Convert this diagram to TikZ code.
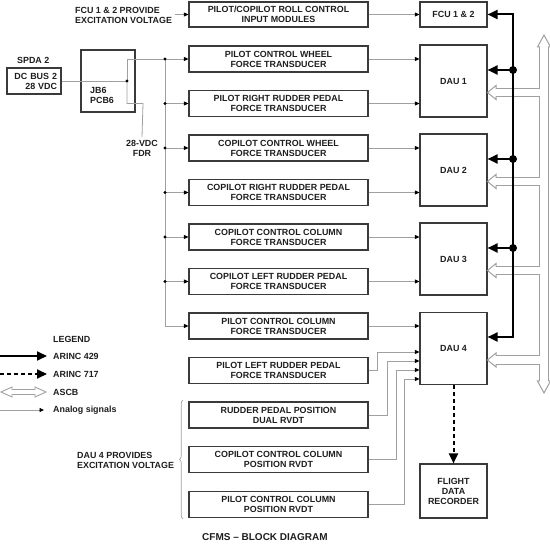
\documentclass[tikz,border=0pt]{standalone}
\usepackage{fontspec}
\setmainfont{Liberation Sans}
\usetikzlibrary{arrows.meta,decorations.pathreplacing}
\definecolor{boxc}{HTML}{3A3A3A}
\definecolor{linec}{HTML}{A0A0A0}
\definecolor{txt}{HTML}{1E1E1E}
\begin{document}
\begin{tikzpicture}[x=1pt,y=-1pt,
  lab/.style={font=\fontsize{8.9}{10}\selectfont\bfseries, text=txt, inner sep=0pt, align=center},
  blk/.style={lab, draw=boxc, line width=1.1pt, minimum width=179pt, minimum height=26pt},
  dau/.style={lab, draw=boxc, line width=1.1pt, minimum width=67pt, minimum height=72pt},
  sig/.style={draw=linec, line width=0.8pt, -{Triangle[length=4.5pt,width=4pt,color=black]}},
  pwr/.style={draw=linec, line width=0.8pt},
  arc/.style={draw=black, line width=2pt, -{Triangle[length=10pt,width=9pt]}},
  pdot/.style={circle, fill=black, inner sep=0pt, minimum size=3.2pt},
  bdot/.style={circle, fill=black, inner sep=0pt, minimum size=8pt},
]
\useasboundingbox (0,0) rectangle (550,545);

% ---- left column boxes
\node[blk, minimum height=25pt] (pcrc) at (278.5,14.5) {PILOT/COPILOT ROLL CONTROL\\INPUT MODULES};
\node[blk] (pcw) at (278.5,59) {PILOT CONTROL WHEEL\\FORCE TRANSDUCER};
\node[blk] (prr) at (278.5,103.5) {PILOT RIGHT RUDDER PEDAL\\FORCE TRANSDUCER};
\node[blk] (ccw) at (278.5,148) {COPILOT CONTROL WHEEL\\FORCE TRANSDUCER};
\node[blk] (crr) at (278.5,192.5) {COPILOT RIGHT RUDDER PEDAL\\FORCE TRANSDUCER};
\node[blk] (ccc) at (278.5,237) {COPILOT CONTROL COLUMN\\FORCE TRANSDUCER};
\node[blk] (clr) at (278.5,281.5) {COPILOT LEFT RUDDER PEDAL\\FORCE TRANSDUCER};
\node[blk] (pcc) at (278.5,326) {PILOT CONTROL COLUMN\\FORCE TRANSDUCER};
\node[blk] (plr) at (278.5,370.5) {PILOT LEFT RUDDER PEDAL\\FORCE TRANSDUCER};
\node[blk] (rpp) at (278.5,415) {RUDDER PEDAL POSITION\\DUAL RVDT};
\node[blk] (cccr) at (278.5,459.5) {COPILOT CONTROL COLUMN\\POSITION RVDT};
\node[blk] (pccr) at (278.5,504.5) {PILOT CONTROL COLUMN\\POSITION RVDT};

% ---- right column
\node[dau, minimum height=25pt] (fcu) at (453.5,14.5) {FCU 1 \& 2};
\node[dau] (dau1) at (453.5,81) {DAU 1};
\node[dau] (dau2) at (453.5,170) {DAU 2};
\node[dau] (dau3) at (453.5,259) {DAU 3};
\node[dau] (dau4) at (453.5,348.5) {DAU 4};
\node[dau, minimum height=54pt] (fdr) at (453.5,491) {FLIGHT\\DATA\\RECORDER};

% ---- analog signals to DAUs
\draw[sig] (pcrc.east) -- (fcu.west);
\draw[sig] (pcw.east) -- (pcw.east -| dau1.west);
\draw[sig] (prr.east) -- (prr.east -| dau1.west);
\draw[sig] (ccw.east) -- (ccw.east -| dau2.west);
\draw[sig] (crr.east) -- (crr.east -| dau2.west);
\draw[sig] (ccc.east) -- (ccc.east -| dau3.west);
\draw[sig] (clr.east) -- (clr.east -| dau3.west);
\draw[sig] (pcc.east) -- (pcc.east -| dau4.west);
\coordinate (k1) at (377,352);
\coordinate (k2) at (387.5,361);
\coordinate (k3) at (396,370);
\coordinate (k4) at (404.5,379);
\draw[sig] (plr.east) -| (k1) -- (k1 -| dau4.west);
\draw[sig] (rpp.east) -| (k2) -- (k2 -| dau4.west);
\draw[sig] (cccr.east) -| (k3) -- (k3 -| dau4.west);
\draw[sig] (pccr.east) -| (k4) -- (k4 -| dau4.west);

% ---- FCU excitation label
\node[lab, align=left, anchor=west] (fculab) at (75,15) {FCU 1 \& 2 PROVIDE\\EXCITATION VOLTAGE};
\coordinate (fcuarr) at (175,14.5);
\draw[sig] (fcuarr) -- (pcrc.west);

% ---- power
\node[lab, anchor=west] (spda) at (17,60.5) {SPDA 2};
\node[draw=boxc, line width=1.1pt, minimum width=54pt, minimum height=26pt] (dcbus) at (34,81) {};
\node[lab, align=right, text width=48pt] (dctxt) at (33,81) {DC BUS 2\\28 VDC};
\node[draw=boxc, line width=1.1pt, minimum width=54pt, minimum height=62pt] (jb) at (108,81) {};
\node[lab, align=left, anchor=west] (jbtxt) at (90,95) {JB6\\PCB6};
\node[lab] (fdrlab) at (142,148) {28-VDC\\FDR};
\coordinate (jdot) at (127,81);
\coordinate (j2) at (143,103.5);
\coordinate (b1) at (165,59);
\coordinate (b2) at (165,103.5);
\coordinate (b3) at (165,148);
\coordinate (b4) at (165,192.5);
\coordinate (b5) at (165,237);
\coordinate (b6) at (165,281.5);
\coordinate (b7) at (165,326);
\draw[pwr] (dcbus.east) -- (jdot);
\draw[pwr] (jdot) |- (b1);
\draw[pwr] (jdot) |- (j2) -- ([yshift=2.5pt]fdrlab.north);
\draw[pwr] (b1) -- (b7);
\draw[sig] (b1) -- (pcw.west);
\draw[sig] (b2) -- (prr.west);
\draw[sig] (b3) -- (ccw.west);
\draw[sig] (b4) -- (crr.west);
\draw[sig] (b5) -- (ccc.west);
\draw[sig] (b6) -- (clr.west);
\draw[sig] (b7) -- (pcc.west);
\foreach \p in {jdot,b1,b2,b3,b4,b5,b6} \node[pdot] at (\p) {};

% ---- ASCB hollow bus
\coordinate (vt) at (544,47);
\coordinate (vb) at (544,381);
\draw[linec, line width=9.4pt] (vt) -- (vb);
\foreach \yy in {92.5,181.5,270.5,360} {
  \draw[linec, line width=9.4pt] (548.7,\yy) -- (495.5,\yy);
}
\filldraw[fill=white, draw=linec, line width=1pt] (544,35) -- (550.5,47) -- (537.5,47) -- cycle;
\filldraw[fill=white, draw=linec, line width=1pt] (544,393) -- (550.5,381) -- (537.5,381) -- cycle;
\foreach \yy in {92.5,181.5,270.5,360} {
  \filldraw[fill=white, draw=linec, line width=1pt] (487.5,\yy) -- (496,\yy-7) -- (496,\yy+7) -- cycle;
}
\draw[white, line width=7.4pt] (544,45.5) -- (544,382.5);
\foreach \yy in {92.5,181.5,270.5,360} {
  \draw[white, line width=7.4pt] (544,\yy) -- (494.5,\yy);
}

% ---- ARINC 429 bus
\coordinate (abtop) at (513,14.5);
\coordinate (a1) at (513,70);
\coordinate (a2) at (513,159);
\coordinate (a3) at (513,248);
\coordinate (abbot) at (513,337);
\draw[arc] (a1) -- (abtop) -- (abtop -| fcu.east);
\draw[arc] (a1) -- (abbot) -- (abbot -| dau4.east);
\draw[arc] (a1) -- (a1 -| dau1.east);
\draw[arc] (a2) -- (a2 -| dau2.east);
\draw[arc] (a3) -- (a3 -| dau3.east);
\foreach \p in {a1,a2,a3} \node[bdot] at (\p) {};

% ---- ARINC 717 to FDR
\draw[arc, dash pattern=on 4pt off 3pt] (dau4.south) -- (fdr.north);

% ---- brace
\draw[linec, line width=0.7pt, decorate, decoration={brace, amplitude=3.5pt}] (183,519) -- (183,400);
\node[lab, align=left, anchor=west] (dau4lab) at (77,460) {DAU 4 PROVIDES\\EXCITATION VOLTAGE};

% ---- legend
\node[lab, anchor=west] (leg) at (53,339) {LEGEND};
\node[lab, anchor=west] (l1) at (53,356) {ARINC 429};
\node[lab, anchor=west] (l2) at (53,374) {ARINC 717};
\node[lab, anchor=west] (l3) at (53,392) {ASCB};
\node[lab, anchor=west] (l4) at (53,410) {Analog signals};
\coordinate (l1s) at (0,356);
\coordinate (l2s) at (0,374);
\coordinate (l4s) at (0,410);
\draw[arc] (l1s) -- ([xshift=-6pt]l1.west);
\draw[arc, dash pattern=on 4pt off 3pt] (l2s) -- ([xshift=-6pt]l2.west);
\draw[sig] (l4s) -- ([xshift=-9pt]l4.west);
% ASCB legend
\draw[linec, line width=5.2pt] (11,392) -- (36,392);
\filldraw[fill=white, draw=linec, line width=0.9pt] (1,392) -- (12,387) -- (12,397) -- cycle;
\filldraw[fill=white, draw=linec, line width=0.9pt] (46,392) -- (35,387) -- (35,397) -- cycle;
\draw[white, line width=3.4pt] (11,392) -- (36,392);

% ---- title
\node[font=\fontsize{10}{12}\selectfont\bfseries, text=txt, inner sep=0pt] (title) at (265,537) {CFMS – BLOCK DIAGRAM};
\end{tikzpicture}
\end{document}
